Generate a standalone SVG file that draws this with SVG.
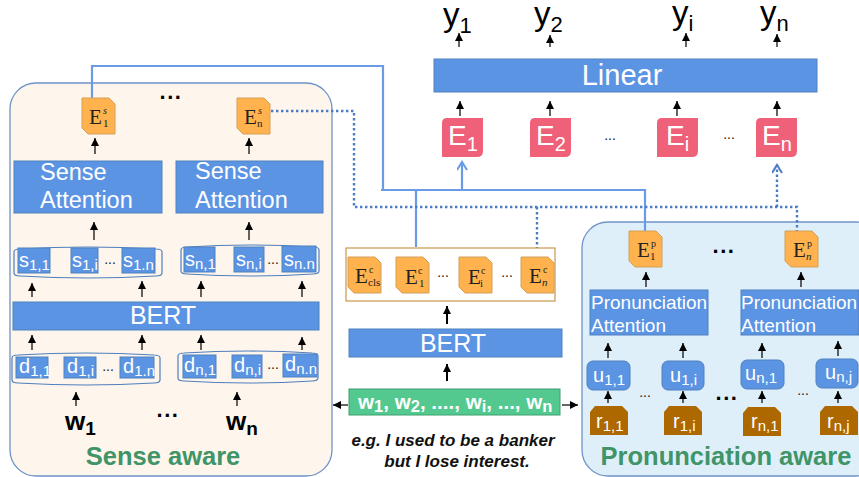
<svg xmlns="http://www.w3.org/2000/svg" width="859" height="477" viewBox="0 0 859 477">
<style>
text{font-family:"Liberation Sans",Arial,sans-serif}
.bg{fill:#fff}
.blue{fill:#5c94e4;stroke:#4f81bd;stroke-width:1}
.w{fill:#fff}
.sub{font-size:15px}
.serif{font-family:"Liberation Serif","Times New Roman",serif;fill:#222}
.card{fill:#ffb24d;stroke:#d3a05a;stroke-width:1}
.pink{fill:#ef6079}
.brown{fill:#ad6800}
.ell{fill:none;stroke:#4f7fbd;stroke-width:1.2}
.arr{stroke:#111;stroke-width:1.3;fill:none;marker-end:url(#ah)}
.arrb{stroke:#000;stroke-width:2;fill:none;marker-end:url(#ah)}
.sol{stroke:#6a9ce6;stroke-width:2.2;fill:none}
.dot{stroke:#4a7cc4;stroke-width:2.4;stroke-dasharray:2.4 2.6;fill:none}
.title{font-weight:bold;fill:#3f9468;font-size:25.5px}
.dots{font-weight:bold;font-size:22px;fill:#000;letter-spacing:1.5px}
.small{font-size:14px;fill:#222}
</style>
<defs>
<marker id="ah" markerUnits="userSpaceOnUse" markerWidth="9" markerHeight="8" refX="8" refY="4" orient="auto"><path d="M0 0L8 4L0 8z" fill="#000"/></marker>
<marker id="ahb" markerUnits="userSpaceOnUse" markerWidth="12" markerHeight="12" refX="9" refY="5" orient="auto"><path d="M1 0L9 5L1 10" fill="none" stroke="#6a9ce6" stroke-width="2"/></marker>
<marker id="ahd" markerUnits="userSpaceOnUse" markerWidth="12" markerHeight="12" refX="9" refY="5" orient="auto"><path d="M1 0L9 5L1 10" fill="none" stroke="#4a7cc4" stroke-width="2"/></marker>
<path id="c" d="M0 0H27L33 6V36H6L0 30Z"/>
<path id="r" d="M5 0H32L38 6V29H0V6Z"/>
<path id="p" d="M5 0H41V33Q41 39 35 39H0V5Q0 0 5 0Z"/>
</defs>
<rect class="bg" width="859" height="477"/>

<g id="sense-panel"><rect x="10" y="83" width="322" height="393" rx="26" fill="#fef6ec" stroke="#6f93c8" stroke-width="1.3"/>
<text class="title" x="163" y="465" text-anchor="middle">Sense aware</text>
<text class="dots" x="171" y="99" text-anchor="middle">...</text>
<text class="dots" x="168" y="417" text-anchor="middle">...</text></g>
<g id="pron-panel"><rect x="582" y="222" width="300" height="254" rx="26" fill="#deeffa" stroke="#6f93c8" stroke-width="1.3"/>
<text class="title" x="726" y="465" text-anchor="middle">Pronunciation aware</text>
<text class="dots" x="724" y="253" text-anchor="middle">...</text>
<text class="dots" x="727" y="400" text-anchor="middle">...</text></g>

<g id="connectors">
<path class="sol" d="M92 98V66H383V190"/>
<path class="sol" d="M381 190H645V231"/>
<path class="sol" d="M416 190V247"/>
<path class="sol" d="M462 190V162" marker-end="url(#ahb)"/>
<path class="dot" d="M271 111H354V207H797V231"/>
<path class="dot" d="M537 207V257"/>
<path class="dot" d="M777 207V165" marker-end="url(#ahd)"/>
<path class="arr" d="M459 47V33"/><path class="arr" d="M550 47V35"/><path class="arr" d="M686 47V33"/><path class="arr" d="M777 47V34"/>
<path class="arr" d="M460 116V101"/><path class="arr" d="M550 116V101"/><path class="arr" d="M677 116V101"/><path class="arr" d="M777 116V101"/>
<path class="arr" d="M95 154V138"/><path class="arr" d="M249 154V138"/>
<path class="arr" d="M94 240V222"/><path class="arr" d="M249 240V222"/>
<path class="arr" d="M32 297V283"/><path class="arr" d="M142 297V281"/><path class="arr" d="M201 297V281"/><path class="arr" d="M302 297V281"/>
<path class="arr" d="M32 350V335"/><path class="arr" d="M142 350V335"/><path class="arr" d="M201 350V335"/><path class="arr" d="M302 350V337"/>
<path class="arr" d="M76 406V392"/><path class="arr" d="M237 406V392"/>
<path class="arrb" d="M447 324V306"/><path class="arrb" d="M447 381V364"/>
<path class="arr" d="M348 405H333"/><path class="arr" d="M562 405H578"/>
<path class="arr" d="M646 287V272"/><path class="arr" d="M801 287V272"/>
<path class="arr" d="M608 358V343"/><path class="arr" d="M683 358V343"/><path class="arr" d="M762 358V343"/><path class="arr" d="M838 356V341"/>
<path class="arr" d="M608 403V391"/><path class="arr" d="M683 403V391"/><path class="arr" d="M762 403V391"/><path class="arr" d="M838 403V391"/>
</g>

<g id="outputs">
<text x="443" y="26" font-size="33">y<tspan font-size="22" dy="7">1</tspan></text>
<text x="534" y="25" font-size="33">y<tspan font-size="22" dy="7">2</tspan></text>
<text x="672" y="24" font-size="33">y<tspan font-size="22" dy="7">i</tspan></text>
<text x="760" y="24" font-size="33">y<tspan font-size="22" dy="7">n</tspan></text>
</g>
<g id="linear"><rect class="blue" x="434" y="59" width="383" height="33"/><text class="w" x="622" y="85" font-size="29" text-anchor="middle">Linear</text></g>

<g id="E1"><use href="#p" class="pink" x="442" y="118"/><text class="w" x="448" y="145" font-size="28">E<tspan font-size="20" dy="6">1</tspan></text></g>
<g id="E2"><use href="#p" class="pink" x="530" y="118"/><text class="w" x="536" y="145" font-size="28">E<tspan font-size="20" dy="6">2</tspan></text></g>
<g id="Ei"><use href="#p" class="pink" x="657" y="118"/><text class="w" x="666" y="145" font-size="28">E<tspan font-size="20" dy="6">i</tspan></text></g>
<g id="En"><use href="#p" class="pink" x="756" y="118"/><text class="w" x="762" y="145" font-size="28">E<tspan font-size="20" dy="6">n</tspan></text></g>
<text class="small" x="610" y="140" text-anchor="middle">...</text>
<text class="small" x="729" y="139" text-anchor="middle">...</text>

<g id="Es1"><use href="#c" class="card" x="82" y="98"/><text class="serif" x="89" y="124" font-size="21">E</text><text class="serif" x="103" y="114" font-size="10" font-style="italic">s</text><text class="serif" x="103" y="127" font-size="11">1</text></g>
<g id="Esn"><use href="#c" class="card" x="237" y="98"/><text class="serif" x="244" y="124" font-size="21">E</text><text class="serif" x="258" y="114" font-size="10" font-style="italic">s</text><text class="serif" x="257" y="127" font-size="11">n</text></g>

<g id="sense-att-1"><rect class="blue" x="14" y="161" width="148" height="52"/><text class="w" x="40" y="180" font-size="23.5">Sense</text><text class="w" x="40" y="208" font-size="23.5">Attention</text></g>
<g id="sense-att-n"><rect class="blue" x="176" y="161" width="147" height="52"/><text class="w" x="195" y="179" font-size="23.5">Sense</text><text class="w" x="195" y="208" font-size="23.5">Attention</text></g>

<g id="s-1"><path class="ell" d="M14 252Q14 249 20 249Q88 245 156 249Q162 249 162 252V273Q162 276 156 276Q88 280 20 276Q14 276 14 273Z"/>
<rect class="blue" x="18" y="248" width="32" height="25"/><rect class="blue" x="71" y="248" width="27" height="25"/><rect class="blue" x="122" y="248" width="33" height="25"/>
<text class="w" x="19" y="267" font-size="20">s<tspan class="sub" dy="3">1,1</tspan></text>
<text class="w" x="72" y="267" font-size="20">s<tspan class="sub" dy="3">1,i</tspan></text>
<text class="w" x="123" y="267" font-size="20">s<tspan class="sub" dy="3">1.n</tspan></text>
<text class="small" x="110" y="264" text-anchor="middle">...</text></g>
<g id="s-n"><path class="ell" d="M181 250Q181 247 187 247Q250 243 313 247Q319 247 319 250V271Q319 274 313 274Q250 278 187 274Q181 274 181 271Z"/>
<rect class="blue" x="184" y="247" width="31" height="25"/><rect class="blue" x="234" y="247" width="30" height="25"/><rect class="blue" x="282" y="246" width="34" height="26"/>
<text class="w" x="185" y="266" font-size="20">s<tspan class="sub" dy="3">n,1</tspan></text>
<text class="w" x="236" y="266" font-size="20">s<tspan class="sub" dy="3">n,i</tspan></text>
<text class="w" x="284" y="266" font-size="20">s<tspan class="sub" dy="3">n.n</tspan></text>
<text class="small" x="273" y="264" text-anchor="middle">...</text></g>

<g id="bert-sense"><rect class="blue" x="13" y="302" width="306" height="28"/><text class="w" x="163" y="324" font-size="25" text-anchor="middle">BERT</text></g>

<g id="d-1"><path class="ell" d="M12 358Q12 355 18 355Q86 351 154 355Q160 355 160 358V380Q160 383 154 383Q86 387 18 383Q12 383 12 380Z"/>
<rect class="blue" x="16" y="357" width="32" height="21"/><rect class="blue" x="64" y="357" width="32" height="21"/><rect class="blue" x="120" y="357" width="34" height="21"/>
<text class="w" x="19" y="373" font-size="20">d<tspan class="sub" dy="3">1,1</tspan></text>
<text class="w" x="67" y="373" font-size="20">d<tspan class="sub" dy="3">1,i</tspan></text>
<text class="w" x="123" y="373" font-size="20">d<tspan class="sub" dy="3">1.n</tspan></text>
<text class="small" x="108" y="371" text-anchor="middle">...</text></g>
<g id="d-n"><path class="ell" d="M178 356Q178 353 184 353Q248 349 312 353Q318 353 318 356V378Q318 381 312 381Q248 385 184 381Q178 381 178 378Z"/>
<rect class="blue" x="183" y="355" width="33" height="23"/><rect class="blue" x="232" y="355" width="30" height="23"/><rect class="blue" x="283" y="354" width="34" height="23"/>
<text class="w" x="184" y="372" font-size="20">d<tspan class="sub" dy="3">n,1</tspan></text>
<text class="w" x="234" y="372" font-size="20">d<tspan class="sub" dy="3">n,i</tspan></text>
<text class="w" x="285" y="371" font-size="20">d<tspan class="sub" dy="3">n.n</tspan></text>
<text class="small" x="273" y="369" text-anchor="middle">...</text></g>

<g id="w1"><text x="65" y="430" font-size="26" font-weight="bold">w<tspan font-size="19" dy="5">1</tspan></text></g>
<g id="wn"><text x="226" y="430" font-size="26" font-weight="bold">w<tspan font-size="19" dy="5">n</tspan></text></g>

<g id="Ec-group"><rect x="346" y="248" width="209" height="53" fill="#fff" stroke="#c8974a" stroke-width="1.2"/>
<use href="#c" class="card" x="348" y="257"/><use href="#c" class="card" x="396" y="257"/><use href="#c" class="card" x="459" y="257"/><use href="#c" class="card" x="521" y="257"/>
<text class="serif" x="355" y="283" font-size="21">E</text><text class="serif" x="369" y="273" font-size="10">c</text><text class="serif" x="368" y="286" font-size="11">cls</text>
<text class="serif" x="405" y="284" font-size="21">E</text><text class="serif" x="418" y="274" font-size="10">c</text><text class="serif" x="419" y="287" font-size="11">1</text>
<text class="serif" x="468" y="284" font-size="21">E</text><text class="serif" x="481" y="274" font-size="10">c</text><text class="serif" x="480" y="287" font-size="11">i</text>
<text class="serif" x="529" y="283" font-size="21">E</text><text class="serif" x="543" y="273" font-size="10">c</text><text class="serif" x="542" y="286" font-size="11" font-style="italic">n</text>
<text class="small" x="443" y="277" text-anchor="middle">...</text><text class="small" x="507" y="277" text-anchor="middle">...</text></g>

<g id="bert-center"><rect class="blue" x="349" y="329" width="213" height="28"/><text class="w" x="453" y="352" font-size="25" text-anchor="middle">BERT</text></g>
<g id="words"><rect x="349" y="389" width="211" height="26" fill="#53c98f" stroke="#3f9e6f"/>
<text class="w" x="358" y="409" font-size="20.6" font-weight="bold">w<tspan font-size="16.5" dy="3">1</tspan><tspan dy="-3">, w</tspan><tspan font-size="16.5" dy="3">2</tspan><tspan dy="-3">, ...., w</tspan><tspan font-size="16.5" dy="3">i</tspan><tspan dy="-3">, ..., w</tspan><tspan font-size="16.5" dy="3">n</tspan></text></g>
<g id="example" font-size="17" font-weight="bold" font-style="italic" fill="#111"><text x="453" y="446" text-anchor="middle">e.g. I used to be a banker</text><text x="457" y="467" text-anchor="middle">but I lose interest.</text></g>

<g id="Ep1"><use href="#c" class="card" x="629" y="231"/><text class="serif" x="637" y="257" font-size="21">E</text><text class="serif" x="651" y="247" font-size="10">p</text><text class="serif" x="650" y="260" font-size="11">1</text></g>
<g id="Epn"><use href="#c" class="card" x="785" y="231"/><text class="serif" x="793" y="257" font-size="21">E</text><text class="serif" x="807" y="247" font-size="10">p</text><text class="serif" x="806" y="260" font-size="11" font-style="italic">n</text></g>

<g id="pron-att-1"><rect class="blue" x="590" y="290" width="118" height="45"/><text class="w" x="591" y="309" font-size="19">Pronunciation</text><text class="w" x="591" y="332" font-size="19">Attention</text></g>
<g id="pron-att-n"><rect class="blue" x="741" y="290" width="118" height="45"/><text class="w" x="741" y="309" font-size="19">Pronunciation</text><text class="w" x="741" y="332" font-size="19">Attention</text></g>

<g id="u11"><rect class="blue" x="587" y="361" width="43" height="29" rx="6"/><text class="w" x="593" y="382" font-size="20">u<tspan class="sub" dy="3">1,1</tspan></text></g>
<g id="u1i"><rect class="blue" x="662" y="361" width="42" height="29" rx="6"/><text class="w" x="670" y="382" font-size="20">u<tspan class="sub" dy="3">1,i</tspan></text></g>
<g id="un1"><rect class="blue" x="741" y="360" width="43" height="29" rx="6"/><text class="w" x="745" y="380" font-size="20">u<tspan class="sub" dy="3">n,1</tspan></text></g>
<g id="unj"><rect class="blue" x="816" y="359" width="42" height="29" rx="6"/><text class="w" x="825" y="379" font-size="20">u<tspan class="sub" dy="3">n,j</tspan></text></g>
<text class="small" x="645" y="397" text-anchor="middle">...</text><text class="small" x="803" y="395" text-anchor="middle">...</text>

<g id="r11"><use href="#r" class="brown" x="590" y="406"/><text class="w" x="596" y="428" font-size="20">r<tspan class="sub" dy="3">1,1</tspan></text></g>
<g id="r1i"><use href="#r" class="brown" x="664" y="406"/><text class="w" x="673" y="428" font-size="20">r<tspan class="sub" dy="3">1,i</tspan></text></g>
<g id="rn1"><use href="#r" class="brown" x="743" y="407"/><text class="w" x="751" y="428" font-size="20">r<tspan class="sub" dy="3">n,1</tspan></text></g>
<g id="rnj"><use href="#r" class="brown" x="820" y="406"/><text class="w" x="827" y="428" font-size="20">r<tspan class="sub" dy="3">n,j</tspan></text></g>
</svg>
